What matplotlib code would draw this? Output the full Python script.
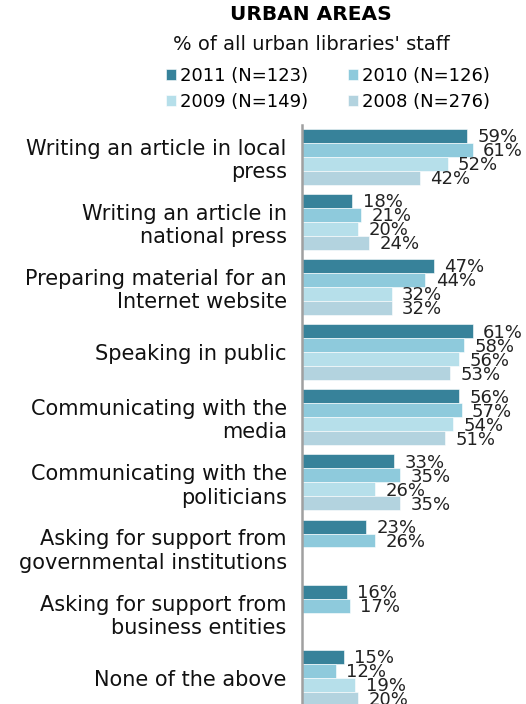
import numpy as np
import matplotlib
matplotlib.use('Agg')
import matplotlib.pyplot as plt

# categories, top to bottom
categories = ['Writing an article in local\npress',
              'Writing an article in\nnational press',
              'Preparing material for an\nInternet website',
              'Speaking in public',
              'Communicating with the\nmedia',
              'Communicating with the\npoliticians',
              'Asking for support from\ngovernmental institutions',
              'Asking for support from\nbusiness entities',
              'None of the above']

years = ['2011 (N=123)', '2010 (N=126)', '2009 (N=149)', '2008 (N=276)']
colors = ['#37829a', '#8ecadc', '#b6dfea', '#b3d3df']

v2011 = [59, 18, 47, 61, 56, 33, 23, 16, 15]
v2010 = [61, 21, 44, 58, 57, 35, 26, 17, 12]
v2009 = [52, 20, 32, 56, 54, 26, np.nan, np.nan, 19]
v2008 = [42, 24, 32, 53, 51, 35, np.nan, np.nan, 20]
series = [v2011, v2010, v2009, v2008]

W, H = 526, 704
fig = plt.figure(figsize=(W / 100, H / 100), dpi=100)
ax = fig.add_axes([302 / W, 0, (W - 302) / W, (H - 125) / H])

bar_h = 0.215
y = np.arange(len(categories))
bars = []
for j, vals in enumerate(series):
    pos = y + (j - 1.5) * bar_h
    b = ax.barh(pos, vals, height=bar_h, color=colors[j], label=years[j],
                edgecolor='white', linewidth=0.4)
    bars.append(b)
    # value labels next to each bar
    for p, v in zip(pos, vals):
        if not np.isnan(v):
            ax.annotate('%d%%' % v, (v, p), xytext=(7.5, -1), textcoords='offset points',
                        ha='left', va='center', fontsize=13, color='#222222')

ax.set_xlim(0, 80)
ax.set_ylim(-0.49 + 579 / 65.1, -0.49)
ax.set_yticks(y)
ax.set_yticklabels(categories, fontsize=15, color='#111111', ha='right')
ax.tick_params(axis='y', length=0, pad=11)
ax.set_xticks([])
for s in ['top', 'right', 'bottom']:
    ax.spines[s].set_visible(False)
ax.spines['left'].set_color('#a0a0a0')
ax.spines['left'].set_linewidth(1.8)

fig.text(311 / W, 1 - 15 / H, 'URBAN AREAS', ha='center', va='center',
         fontsize=14.5, fontweight='bold', color='black')
fig.text(311 / W, 1 - 45 / H, "% of all urban libraries' staff", ha='center', va='center',
         fontsize=14, color='#111111')

handles = [bars[0], bars[2], bars[1], bars[3]]
labels = [years[0], years[2], years[1], years[3]]
fig.legend(handles, labels, loc='center', bbox_to_anchor=(328 / W, 1 - 89 / H), ncol=2,
           frameon=False, fontsize=13, handlelength=0.55, handleheight=0.55,
           handletextpad=0.25, columnspacing=2.2, labelspacing=0.45, borderpad=0)

fig.savefig('out.png', dpi=100)
